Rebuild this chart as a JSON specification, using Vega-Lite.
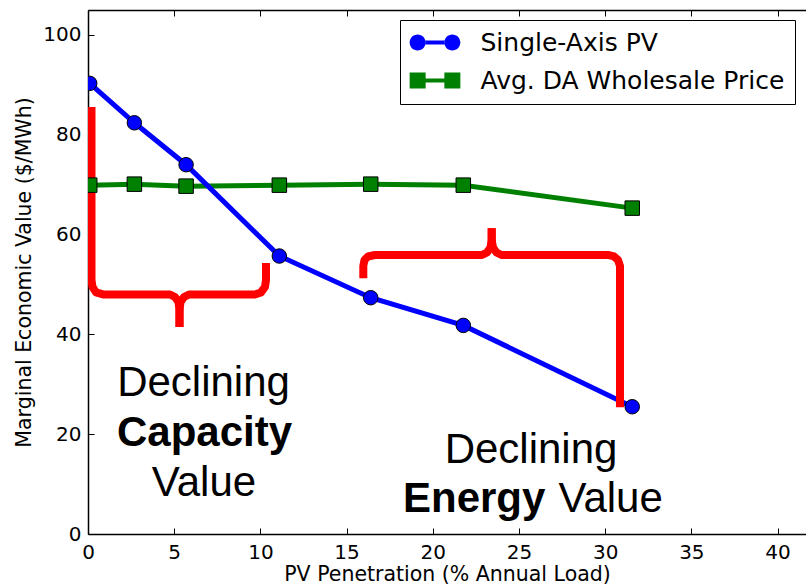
{
  "$schema": "https://vega.github.io/schema/vega-lite/v6.json",
  "width": 718,
  "height": 524,
  "autosize": {"type": "none"},
  "padding": {"left": 88, "top": 10, "right": 0, "bottom": 51},
  "background": "white",
  "config": {
    "view": {"stroke": null},
    "axis": {"grid": false},
    "font": "DejaVu Sans",
    "legend": {"strokeColor": "black", "strokeWidth": 1, "fillColor": "white", "cornerRadius": 0, "padding": 10}
  },
  "datasets": {
    "series": [
      {"series": "Avg. DA Wholesale Price", "x": 0.1, "y": 69.9},
      {"series": "Avg. DA Wholesale Price", "x": 2.69, "y": 70.1},
      {"series": "Avg. DA Wholesale Price", "x": 5.69, "y": 69.7},
      {"series": "Avg. DA Wholesale Price", "x": 11.1, "y": 69.9},
      {"series": "Avg. DA Wholesale Price", "x": 16.4, "y": 70.1},
      {"series": "Avg. DA Wholesale Price", "x": 21.77, "y": 69.9},
      {"series": "Avg. DA Wholesale Price", "x": 31.57, "y": 65.3},
      {"series": "Single-Axis PV", "x": 0.1, "y": 90.3},
      {"series": "Single-Axis PV", "x": 2.69, "y": 82.4},
      {"series": "Single-Axis PV", "x": 5.69, "y": 74.0},
      {"series": "Single-Axis PV", "x": 11.1, "y": 55.7},
      {"series": "Single-Axis PV", "x": 16.4, "y": 47.35},
      {"series": "Single-Axis PV", "x": 21.77, "y": 41.8},
      {"series": "Single-Axis PV", "x": 31.57, "y": 25.5}
    ],
    "braces": [
      {"part": "b1L", "o": 1, "x": 0.203, "y": 85.57},
      {"part": "b1L", "o": 2, "x": 0.203, "y": 50.9},
      {"part": "b1L", "o": 3, "x": 0.261, "y": 49.5},
      {"part": "b1L", "o": 4, "x": 0.464, "y": 48.4},
      {"part": "b1L", "o": 5, "x": 0.87, "y": 48.0},
      {"part": "b1L", "o": 6, "x": 4.757, "y": 48.0},
      {"part": "b1L", "o": 7, "x": 5.047, "y": 47.49},
      {"part": "b1L", "o": 8, "x": 5.25, "y": 46.49},
      {"part": "b1L", "o": 9, "x": 5.308, "y": 44.89},
      {"part": "b1L", "o": 10, "x": 5.308, "y": 41.48},
      {"part": "b1R", "o": 1, "x": 5.308, "y": 41.48},
      {"part": "b1R", "o": 2, "x": 5.308, "y": 44.89},
      {"part": "b1R", "o": 3, "x": 5.366, "y": 46.49},
      {"part": "b1R", "o": 4, "x": 5.569, "y": 47.49},
      {"part": "b1R", "o": 5, "x": 5.859, "y": 48.0},
      {"part": "b1R", "o": 6, "x": 9.687, "y": 48.0},
      {"part": "b1R", "o": 7, "x": 10.035, "y": 48.4},
      {"part": "b1R", "o": 8, "x": 10.267, "y": 49.5},
      {"part": "b1R", "o": 9, "x": 10.325, "y": 50.9},
      {"part": "b1R", "o": 10, "x": 10.325, "y": 54.31},
      {"part": "b2L", "o": 1, "x": 15.97, "y": 51.24},
      {"part": "b2L", "o": 2, "x": 15.97, "y": 53.71},
      {"part": "b2L", "o": 3, "x": 16.039, "y": 54.91},
      {"part": "b2L", "o": 4, "x": 16.242, "y": 55.61},
      {"part": "b2L", "o": 5, "x": 16.648, "y": 55.91},
      {"part": "b2L", "o": 6, "x": 22.855, "y": 55.91},
      {"part": "b2L", "o": 7, "x": 23.145, "y": 56.41},
      {"part": "b2L", "o": 8, "x": 23.348, "y": 57.41},
      {"part": "b2L", "o": 9, "x": 23.418, "y": 58.92},
      {"part": "b2L", "o": 10, "x": 23.418, "y": 61.26},
      {"part": "b2R", "o": 1, "x": 23.418, "y": 61.26},
      {"part": "b2R", "o": 2, "x": 23.418, "y": 58.92},
      {"part": "b2R", "o": 3, "x": 23.493, "y": 57.41},
      {"part": "b2R", "o": 4, "x": 23.696, "y": 56.41},
      {"part": "b2R", "o": 5, "x": 23.986, "y": 55.91},
      {"part": "b2R", "o": 6, "x": 30.164, "y": 55.91},
      {"part": "b2R", "o": 7, "x": 30.512, "y": 55.61},
      {"part": "b2R", "o": 8, "x": 30.744, "y": 54.91},
      {"part": "b2R", "o": 9, "x": 30.86, "y": 53.71},
      {"part": "b2R", "o": 10, "x": 30.86, "y": 25.39}
    ],
    "notes": [
      {"label": "Declining", "x": 6.7, "y": 27.66},
      {"label": "Value", "x": 6.73, "y": 7.62},
      {"label": "Declining", "x": 25.7, "y": 14.23},
      {"label": "Value", "x": 30.32, "y": 4.41}
    ],
    "boldnotes": [
      {"label": "Capacity", "x": 6.76, "y": 17.64},
      {"label": "Energy", "x": 22.4, "y": 4.41}
    ]
  },
  "layer": [
    {
      "data": {"name": "series"},
      "mark": {"type": "point", "filled": true, "size": 256, "opacity": 0},
      "encoding": {
        "x": {"field": "x", "type": "quantitative", "scale": {"domain": [0, 41.65], "nice": false, "zero": false}, "axis": null},
        "y": {"field": "y", "type": "quantitative", "scale": {"domain": [0, 105], "nice": false, "zero": false}, "axis": null},
        "color": {"field": "series", "type": "nominal",
          "scale": {"domain": ["Single-Axis PV", "Avg. DA Wholesale Price"], "range": ["#0000ff", "#008000"]},
          "legend": {"orient": "none", "legendX": 312, "legendY": 10, "title": null, "symbolSize": 256, "symbolStrokeWidth": 0, "symbolOffset": 12.5, "labelOffset": 33,
            "labelFont": "DejaVu Sans", "labelFontSize": 25, "labelColor": "black", "rowPadding": 12, "labelLimit": 500, "symbolOpacity": 1}},
        "shape": {"field": "series", "type": "nominal",
          "scale": {"domain": ["Single-Axis PV", "Avg. DA Wholesale Price"],
            "range": ["M-3.17,0A1,1,0,1,0,-1.17,0A1,1,0,1,0,-3.17,0ZM-1.2,-0.25L1.2,-0.25L1.2,0.25L-1.2,0.25ZM1.17,0A1,1,0,1,0,3.17,0A1,1,0,1,0,1.17,0Z",
                      "M-3.17,-1L-1.17,-1L-1.17,1L-3.17,1ZM-1.2,-0.25L1.2,-0.25L1.2,0.25L-1.2,0.25ZM1.17,-1L3.17,-1L3.17,1L1.17,1Z"]},
          "legend": {"orient": "none", "legendX": 312, "legendY": 10, "title": null, "symbolSize": 256, "symbolStrokeWidth": 0, "symbolOffset": 12.5, "labelOffset": 33,
            "labelFont": "DejaVu Sans", "labelFontSize": 25, "labelColor": "black", "rowPadding": 12, "labelLimit": 500, "symbolOpacity": 1}}
      }
    },
    {
      "data": {"name": "series"},
      "mark": {"type": "line", "strokeWidth": 5, "clip": true},
      "encoding": {
        "x": {"field": "x", "type": "quantitative", "scale": {"domain": [0, 41.65], "nice": false, "zero": false},
          "axis": {"orient": "bottom", "values": [0, 5, 10, 15, 20, 25, 30, 35, 40], "tickSize": -6, "tickColor": "black", "tickWidth": 1,
            "domainColor": "black", "domainWidth": 1.5, "labelFont": "DejaVu Sans", "labelFontSize": 20, "labelColor": "black",
            "labelPadding": 14, "labelFlush": false, "labelOverlap": false,
            "title": "PV Penetration (% Annual Load)", "titleFont": "DejaVu Sans", "titleFontSize": 20.5, "titleFontWeight": "normal", "titleColor": "black", "titlePadding": 2}},
        "y": {"field": "y", "type": "quantitative", "scale": {"domain": [0, 105], "nice": false, "zero": false},
          "axis": {"orient": "left", "values": [0, 20, 40, 60, 80, 100], "tickSize": -6, "tickColor": "black", "tickWidth": 1,
            "domainColor": "black", "domainWidth": 1.5, "labelFont": "DejaVu Sans", "labelFontSize": 20, "labelColor": "black",
            "labelPadding": 13, "labelOverlap": false, "labelFlush": false,
            "title": "Marginal Economic Value ($/MWh)", "titleFont": "DejaVu Sans", "titleFontSize": 20.5, "titleFontWeight": "normal", "titleColor": "black", "titlePadding": 8}},
        "color": {"field": "series", "type": "nominal", "legend": null}
      }
    },
    {
      "data": {"name": "braces"},
      "mark": {"type": "line", "color": "#ff0000", "strokeWidth": 8, "strokeCap": "butt", "strokeJoin": "round", "clip": true},
      "encoding": {
        "x": {"field": "x", "type": "quantitative", "scale": {"domain": [0, 41.65], "nice": false, "zero": false}, "axis": null},
        "y": {"field": "y", "type": "quantitative", "scale": {"domain": [0, 105], "nice": false, "zero": false}, "axis": null},
        "detail": {"field": "part", "type": "nominal"},
        "order": {"field": "o", "type": "quantitative"}
      }
    },
    {
      "data": {"name": "series"},
      "transform": [{"filter": "datum.series == 'Avg. DA Wholesale Price'"}],
      "mark": {"type": "point", "shape": "square", "filled": true, "size": 210, "opacity": 1, "stroke": "black", "strokeWidth": 1, "clip": true},
      "encoding": {
        "x": {"field": "x", "type": "quantitative", "scale": {"domain": [0, 41.65], "nice": false, "zero": false},
          "axis": {"orient": "top", "values": [0, 5, 10, 15, 20, 25, 30, 35, 40], "tickSize": -6, "tickColor": "black", "tickWidth": 1,
            "domainColor": "black", "domainWidth": 1.5, "labels": false, "title": null}},
        "y": {"field": "y", "type": "quantitative", "scale": {"domain": [0, 105], "nice": false, "zero": false}, "axis": null},
        "color": {"field": "series", "type": "nominal", "legend": null}
      }
    },
    {
      "data": {"name": "series"},
      "transform": [{"filter": "datum.series == 'Single-Axis PV'"}],
      "mark": {"type": "point", "shape": "circle", "filled": true, "size": 210, "opacity": 1, "stroke": "black", "strokeWidth": 1, "clip": true},
      "encoding": {
        "x": {"field": "x", "type": "quantitative", "scale": {"domain": [0, 41.65], "nice": false, "zero": false}, "axis": null},
        "y": {"field": "y", "type": "quantitative", "scale": {"domain": [0, 105], "nice": false, "zero": false}, "axis": null},
        "color": {"field": "series", "type": "nominal", "legend": null}
      }
    },
    {
      "data": {"name": "notes"},
      "mark": {"type": "text", "font": "Liberation Sans", "fontSize": 42, "align": "center", "baseline": "alphabetic", "color": "black"},
      "encoding": {
        "x": {"field": "x", "type": "quantitative", "scale": {"domain": [0, 41.65], "nice": false, "zero": false}, "axis": null},
        "y": {"field": "y", "type": "quantitative", "scale": {"domain": [0, 105], "nice": false, "zero": false}, "axis": null},
        "text": {"field": "label", "type": "nominal"}
      }
    },
    {
      "data": {"name": "boldnotes"},
      "mark": {"type": "text", "font": "Liberation Sans", "fontSize": 42, "fontWeight": "bold", "align": "center", "baseline": "alphabetic", "color": "black"},
      "encoding": {
        "x": {"field": "x", "type": "quantitative", "scale": {"domain": [0, 41.65], "nice": false, "zero": false}, "axis": null},
        "y": {"field": "y", "type": "quantitative", "scale": {"domain": [0, 105], "nice": false, "zero": false}, "axis": null},
        "text": {"field": "label", "type": "nominal"}
      }
    }
  ],
  "resolve": {"axis": {"x": "independent", "y": "independent"}}
}
